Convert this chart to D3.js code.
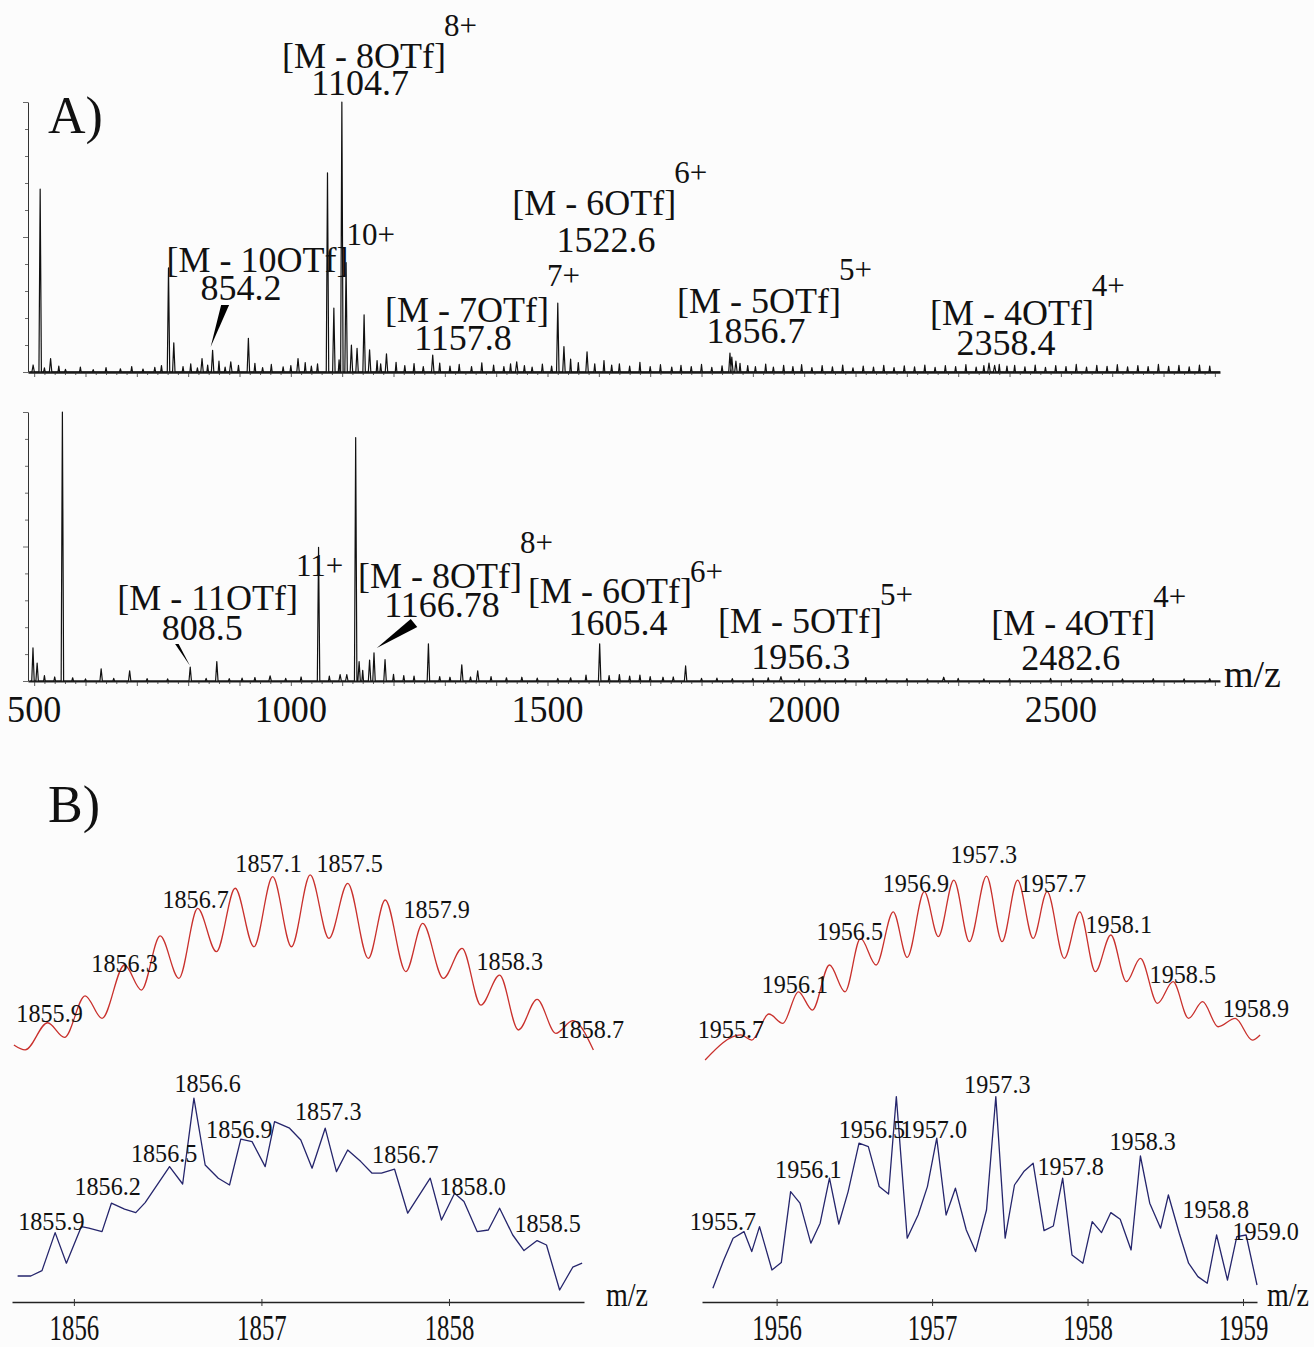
<!DOCTYPE html>
<html>
<head>
<meta charset="utf-8">
<script src="https://cdn.jsdelivr.net/npm/d3@7"></script>
<style>
  body { margin: 0; background: #fcfcfc; }
  svg { display: block; }
</style>
</head>
<body>
<svg id="chart"></svg>
<script>
// ---------- DATA ----------

// panel A, upper spectrum: [m/z, relative intensity]
const topPeaks = [[498,2.6],[511.7,67.7],[532,5],[761.7,38.6],[772,10.8],[827,5],[847.6,8],[883,3.8],
  [917.3,12.5],[1014,5],[1071.4,73.8],[1083.8,23.7],[1099.4,100],[1107.6,40.5],[1118,10],[1129,8.8],
  [1142.7,21.2],[1153.4,8.2],[1186.3,6.7],[1276.4,6.3],[1440,3.8],[1520,25.5],[1532,9.4],[1577,7.5],
  [1855.4,7],[1859,5.5],[1867,4],[2360,3.3],[2371,2.5]];
const topNoise = [[520,1.5],[548,2.2],[561,1.0],[590,1.8],[615,0.9],[640,1.6],[668,1.2],[690,2.0],[712,1.1],
  [735,1.7],[748,2.4],[790,2.0],[805,3.0],[818,1.5],[838,2.6],[860,4.0],[872,1.8],[898,2.5],[930,3.2],
  [945,1.6],[962,2.8],[985,1.9],[1000,2.4],[1028,3.5],[1040,2.2],[1052,3.0],[1094,4.5],[1168,4.2],[1175,3.0],
  [1205,3.6],[1222,2.4],[1240,3.1],[1258,2.0],[1290,3.3],[1310,2.2],[1328,2.8],[1352,2.0],[1372,3.4],
  [1395,2.6],[1415,2.0],[1428,3.0],[1455,2.4],[1470,1.8],[1490,2.9],[1508,2.2],[1545,4.8],[1560,3.5],
  [1592,3.0],[1610,4.2],[1625,2.6],[1640,3.0],[1660,2.2],[1680,3.6],[1700,2.0],[1720,2.7],[1742,1.8],
  [1760,2.5],[1780,2.0],[1800,2.8],[1820,1.7],[1840,2.3],[1875,3.2],[1890,2.4],[1905,2.0],[1925,2.9],
  [1940,1.8],[1960,2.5],[1978,2.0],[1995,2.7],[2015,1.6],[2035,2.4],[2055,1.9],[2075,2.6],[2095,1.5],
  [2115,2.2],[2135,1.8],[2155,2.5],[2175,1.6],[2195,2.3],[2215,1.9],[2235,2.6],[2255,1.7],[2275,2.4],
  [2295,2.0],[2315,2.7],[2335,1.8],[2350,2.4],[2380,2.8],[2395,2.2],[2410,2.5],[2430,1.9],[2450,2.6],
  [2470,1.7],[2490,2.4],[2510,2.0],[2530,2.8],[2550,1.8],[2570,2.5],[2590,2.1],[2610,2.7],[2630,1.9],
  [2650,2.4],[2670,2.0],[2690,2.8],[2710,2.1],[2730,2.5],[2750,1.9],[2770,2.6],[2790,2.2]];

// panel A, lower spectrum
const botPeaks = [[497.7,12.3],[505.8,6.7],[555,100],[630.5,4.5],[686,3.8],[804,5.2],[855.8,7.2],
  [959.6,1.9],[1054,49.7],[1096,2.4],[1109,2.4],[1126.3,90.5],[1133,7.2],[1153.4,7.8],[1162,10.5],
  [1183.5,8],[1268,13.8],[1333,6],[1364,3.8],[1601.6,13.8],[1769,5.6],[1954.7,1.6],[2271.8,1.4]];
const botNoise = [[520,2.0],[540,1.5],[575,1.2],[600,0.8],[655,1.0],[720,0.9],[760,0.8],[835,1.0],[880,0.9],
  [905,1.1],[930,1.3],[990,1.0],[1020,1.5],[1075,1.8],[1140,4.0],[1200,2.5],[1220,2.0],[1240,1.8],
  [1290,1.6],[1310,1.4],[1350,1.5],[1390,1.6],[1420,1.2],[1450,1.4],[1480,1.1],[1520,1.0],[1545,1.2],
  [1575,2.2],[1620,2.0],[1640,2.4],[1660,1.8],[1680,2.2],[1700,1.6],[1725,1.4],[1745,1.5],[1800,1.0],
  [1830,1.1],[1860,0.9],[1900,1.0],[1930,1.2],[1990,0.8],[2030,1.0],[2080,0.9],[2120,1.3],[2160,0.8],
  [2200,0.9],[2240,0.8],[2300,1.0],[2350,0.8],[2400,0.9],[2480,1.0],[2520,0.8],[2560,0.9],[2620,0.8],
  [2680,0.9],[2740,0.8],[2790,0.9]];

const mzTickLabels = [500, 1000, 1500, 2000, 2500];

// ion annotations, anchored in data units (m/z, intensity)
const topNotes = [
  {ion: "[M - 8OTf]",  z: "8+",  mass: "1104.7", ionMz: 1142.6, ionI: 112.6, zI: 124.4, massMz: 1134.9, massI: 102.6},
  {ion: "[M - 10OTf]", z: "10+", mass: "854.2",  ionMz: 935.2,  ionI: 37.0,  zI: 47.0,  massMz: 903.1,  massI: 26.7},
  {ion: "[M - 7OTf]",  z: "7+",  mass: "1157.8", ionMz: 1343.2, ionI: 18.5,  zI: 31.9,  massMz: 1335.4, massI: 8.1},
  {ion: "[M - 6OTf]",  z: "6+",  mass: "1522.6", ionMz: 1591.0, ionI: 58.1,  zI: 70.0,  massMz: 1613.9, massI: 44.4},
  {ion: "[M - 5OTf]",  z: "5+",  mass: "1856.7", ionMz: 1911.9, ionI: 21.9,  zI: 34.1,  massMz: 1906.1, massI: 10.7},
  {ion: "[M - 4OTf]",  z: "4+",  mass: "2358.4", ionMz: 2404.6, ionI: 17.4,  zI: 28.1,  massMz: 2392.9, massI: 6.3}
];
const botNotes = [
  {ion: "[M - 11OTf]", z: "11+", mass: "808.5",   ionMz: 837.9,  ionI: 26.4, zI: 39.0, massMz: 827.2,  massI: 15.2},
  {ion: "[M - 8OTf]",  z: "8+",  mass: "1166.78", ionMz: 1290.7, ionI: 34.6, zI: 47.6, massMz: 1294.5, massI: 23.8},
  {ion: "[M - 6OTf]",  z: "6+",  mass: "1605.4",  ionMz: 1621.7, ionI: 29.0, zI: 36.8, massMz: 1637.3, massI: 17.1},
  {ion: "[M - 5OTf]",  z: "5+",  mass: "1956.3",  ionMz: 1991.7, ionI: 17.8, zI: 28.3, massMz: 1993.2, massI: 4.5},
  {ion: "[M - 4OTf]",  z: "4+",  mass: "2482.6",  ionMz: 2524.3, ionI: 17.1, zI: 27.5, massMz: 2519.5, massI: 4.1}
];
// arrow tips (m/z, intensity)
const topArrowTips = [[843.7, 9.3]];
const botArrowTips = [[803.8, 5.6], [1167.4, 12.3]];

// panel B, left (5+ ion): simulated (red, extrema) and measured (blue)
const simLeft = [[1855.68,7.9],[1855.74,5.3],[1855.86,19.6],[1855.95,11.9],[1856.06,33.8],[1856.15,21.9],
  [1856.27,50],[1856.36,36.8],[1856.46,65.3],[1856.56,43],[1856.66,79.8],[1856.76,57],[1856.86,90.4],
  [1856.96,59.6],[1857.06,96.5],[1857.16,59.6],[1857.26,97.4],[1857.36,64],[1857.46,93],[1857.57,53.5],
  [1857.66,84.2],[1857.77,46.5],[1857.86,71.9],[1857.97,43],[1858.07,58.8],[1858.17,28.9],[1858.27,44.7],
  [1858.37,15.8],[1858.47,31.9],[1858.57,14],[1858.66,20.7],[1858.77,5.3]];
const expLeft = [[1855.70,9.5],[1855.77,9.5],[1855.83,12.2],[1855.90,31.2],[1855.96,15.9],[1856.04,34.2],
  [1856.08,33.4],[1856.15,31.7],[1856.20,45.9],[1856.27,42.9],[1856.33,41.2],[1856.38,46.2],[1856.51,64.2],
  [1856.58,55.5],[1856.64,98.4],[1856.70,65],[1856.77,58.4],[1856.83,55],[1856.89,77.9],[1856.95,76.7],
  [1857.02,64.2],[1857.07,86.7],[1857.15,83.4],[1857.21,77.5],[1857.27,63.4],[1857.34,83.4],[1857.40,61.7],
  [1857.46,72.5],[1857.53,66.7],[1857.59,60.9],[1857.64,60.9],[1857.71,62.9],[1857.78,40.9],[1857.90,58.4],
  [1857.96,37.5],[1858.03,50.9],[1858.08,46.7],[1858.15,31.7],[1858.21,32.5],[1858.27,43.4],[1858.34,30],
  [1858.40,22.2],[1858.47,27.2],[1858.52,25],[1858.59,2.5],[1858.66,13.9],[1858.71,15.9]];
const simLeftLabels = [["1855.9",1855.693,20.0],["1856.3",1856.093,46.3],["1856.7",1856.472,80.0],
  ["1857.1",1856.861,98.9],["1857.5",1857.293,98.9],["1857.9",1857.757,74.7],["1858.3",1858.147,47.4],
  ["1858.7",1858.579,11.6]];
const expLeftLabels = [["1855.9",1855.703,32.5],["1856.2",1856.003,50],["1856.5",1856.304,66.5],
  ["1856.6",1856.536,101.5],["1856.9",1856.705,78.5],["1857.3",1857.179,87.5],["1856.7",1857.590,66],
  ["1858.0",1857.949,50],["1858.5",1858.349,31.5]];
const leftTicks = [1856, 1857, 1858];

// panel B, right
const simRight = [[1955.54,0],[1955.77,13.2],[1955.84,10.5],[1955.95,24.2],[1956.04,19.3],[1956.14,35.9],
  [1956.23,26.3],[1956.34,50],[1956.44,35.9],[1956.54,64],[1956.64,50],[1956.75,78],[1956.84,54],
  [1956.95,88.6],[1957.04,64.9],[1957.14,94.7],[1957.24,62.3],[1957.35,96.8],[1957.45,62.3],[1957.55,94.7],
  [1957.65,64],[1957.74,88.6],[1957.85,53.5],[1957.95,78],[1958.05,46.5],[1958.15,65.8],[1958.25,41.2],
  [1958.34,53.5],[1958.45,29.8],[1958.55,41.2],[1958.65,21.9],[1958.74,30.7],[1958.84,17.5],[1958.95,21.9],
  [1959.06,10.5],[1959.11,13.2]];
const expRight = [[1955.59,3.4],[1955.66,17.5],[1955.72,28.4],[1955.79,31.7],[1955.84,21.7],[1955.89,34.2],
  [1955.97,12.5],[1956.03,16.2],[1956.09,51.7],[1956.15,45.9],[1956.22,25.9],[1956.28,35.9],[1956.34,58.4],
  [1956.40,35.5],[1956.46,51.7],[1956.53,75.9],[1956.59,74.2],[1956.66,54.2],[1956.72,50.5],[1956.77,99.2],
  [1956.84,28.4],[1956.91,40],[1956.97,54.2],[1957.03,78.4],[1957.09,40],[1957.15,53.4],[1957.22,32.5],
  [1957.28,21.7],[1957.35,42.5],[1957.41,99.2],[1957.47,28.4],[1957.53,55],[1957.59,61.7],[1957.65,65.9],
  [1957.72,32.2],[1957.78,34.5],[1957.84,58.4],[1957.90,20],[1957.97,15.9],[1958.03,36.7],[1958.09,31.2],
  [1958.15,41.2],[1958.21,37.9],[1958.28,22.5],[1958.34,69.5],[1958.40,45.9],[1958.47,33.4],[1958.52,50],
  [1958.59,30.9],[1958.65,15.9],[1958.71,9.2],[1958.77,5.9],[1958.83,30],[1958.90,7.5],[1958.96,29.2],
  [1959.02,30],[1959.09,5]];
const simRightLabels = [["1955.7",1955.492,11.6],["1956.1",1955.904,35.3],["1956.5",1956.257,63.2],
  ["1956.9",1956.682,88.4],["1957.3",1957.119,103.7],["1957.7",1957.563,88.4],["1958.1",1957.987,66.8],
  ["1958.5",1958.399,40.5],["1958.9",1958.869,22.6]];
const expRightLabels = [["1955.7",1955.441,32.5],["1956.1",1955.990,58.5],["1956.5",1956.399,78.5],
  ["1957.0",1956.797,78.5],["1957.3",1957.206,101],["1957.8",1957.678,60],["1958.3",1958.141,72.5],
  ["1958.8",1958.611,38.5],["1959.0",1958.932,27.5]];
const rightTicks = [1956, 1957, 1958, 1959];

// ---------- SETUP ----------
const W = 1314, H = 1347;
const serif = '"Liberation Serif","Times New Roman",serif';
const ink = "#111";
const red = "#c9302c";
const navy = "#25256c";

const svg = d3.select("#chart").attr("width", W).attr("height", H)
  .attr("font-family", serif);
svg.append("rect").attr("width", W).attr("height", H).attr("fill", "#fcfcfc");

// text with optional horizontal squeeze
function txt(x, y, s, size, sx, anchor) {
  return svg.append("text")
    .attr("transform", `translate(${x},${y}) scale(${sx},1)`)
    .attr("font-size", size)
    .attr("text-anchor", anchor || "start")
    .attr("fill", ink)
    .text(s);
}

// ---------- PANEL A ----------
const xA = d3.scaleLinear().domain([488, 2810]).range([28, 1220]);
const yTop = d3.scaleLinear().domain([0, 100]).range([372, 102]);
const yBot = d3.scaleLinear().domain([0, 100]).range([681, 412]);

// turn peak list into stick-like spectrum trace
function trace(peaks, noise) {
  const all = peaks.map(p => ({mz: p[0], i: p[1], w: 2.4}))
    .concat(noise.map(p => ({mz: p[0], i: p[1], w: 1.6})))
    .sort((a, b) => a.mz - b.mz);
  const pts = [[xA.domain()[0] + 4, 0]];
  all.forEach(p => pts.push([p.mz - p.w, 0], [p.mz, p.i], [p.mz + p.w, 0]));
  pts.push([xA.domain()[1], 0]);
  return pts;
}

function mzAxis(ys, lineW) {
  const g = svg.append("g")
    .attr("transform", `translate(0,${ys(0)})`)
    .call(d3.axisBottom(xA).tickValues(d3.range(500, 2801, 20))
      .tickSize(3).tickSizeOuter(0).tickFormat(""));
  g.select(".domain").attr("stroke", "#222").attr("stroke-width", lineW);
  g.selectAll(".tick line").attr("stroke", "#333").attr("stroke-width", 0.8)
    .attr("y2", d => d % 100 === 0 ? 5 : 3);
}

function intAxis(ys) {
  const g = svg.append("g")
    .attr("transform", `translate(${xA.range()[0]},0)`)
    .call(d3.axisLeft(ys).tickValues(d3.range(0, 101, 10))
      .tickSize(3).tickSizeOuter(0).tickFormat(""));
  g.select(".domain").attr("stroke", "#333").attr("stroke-width", 1);
  g.selectAll(".tick line").attr("stroke", "#444").attr("stroke-width", 0.8)
    .attr("x2", d => d % 50 === 0 ? -5 : -3);
}

function drawSpectrum(peaks, noise, ys, lineW) {
  mzAxis(ys, lineW);
  intAxis(ys);
  svg.append("path")
    .datum(trace(peaks, noise))
    .attr("fill", "none")
    .attr("stroke", "#111")
    .attr("stroke-width", 1.2)
    .attr("stroke-linejoin", "round")
    .attr("d", d3.line().x(d => xA(d[0])).y(d => ys(d[1])));
}

drawSpectrum(topPeaks, topNoise, yTop, 2.6);
drawSpectrum(botPeaks, botNoise, yBot, 1.8);

function drawNotes(notes, ys) {
  notes.forEach(n => {
    const ion = txt(xA(n.ionMz), ys(n.ionI), n.ion, 36, 1, "middle");
    const w = ion.node().getComputedTextLength();
    txt(xA(n.ionMz) + w / 2 - 2, ys(n.zI), n.z, 31, 1, "start");
    txt(xA(n.massMz), ys(n.massI), n.mass, 36, 1, "middle");
  });
}
drawNotes(topNotes, yTop);
drawNotes(botNotes, yBot);

// wedge pointers (shape offsets in px relative to the tip)
function wedge(tip, ys, a, b) {
  const tx = xA(tip[0]), ty = ys(tip[1]);
  svg.append("path")
    .attr("d", d3.line()([[tx, ty], [tx + a[0], ty + a[1]], [tx + b[0], ty + b[1]]]) + "Z")
    .attr("fill", "#000");
}
wedge(topArrowTips[0], yTop, [10.5, -42], [18.5, -42]);
wedge(botArrowTips[0], yBot, [-15, -22], [-11.5, -22]);
wedge(botArrowTips[1], yBot, [34, -29], [40.5, -21]);

// m/z tick labels and axis title
mzTickLabels.forEach(v => txt(xA(v), 722, v, 38, 0.95, "middle"));
txt(xA.range()[1] + 4, yBot(0) + 6, "m/z", 38, 1, "start");

txt(48, 133, "A)", 52, 1, "start");
txt(48, 822, "B)", 52, 1, "start");

// ---------- PANEL B ----------
const xBL = d3.scaleLinear().domain([1855.67, 1858.72]).range([12, 584]);
const xBR = d3.scaleLinear().domain([1955.52, 1959.09]).range([702, 1257]);
const ySim = d3.scaleLinear().domain([0, 100]).range([1060, 870]);
const yExp = d3.scaleLinear().domain([0, 100]).range([1295, 1095]);
const axisY = 1302;

function bAxis(xs, ticks) {
  const g = svg.append("g")
    .attr("transform", `translate(0,${axisY})`)
    .call(d3.axisBottom(xs).tickValues(ticks).tickSize(4).tickSizeOuter(0)
      .tickPadding(8).tickFormat(d3.format("d")));
  g.select(".domain").attr("stroke", "#222").attr("stroke-width", 1.4);
  g.selectAll(".tick line").attr("stroke", "#333").attr("y1", -3);
  g.selectAll(".tick text")
    .attr("font-size", 36).attr("font-family", serif).attr("fill", ink)
    .attr("transform", "scale(0.69,1)");
  txt(xs.range()[1] + (xs === xBL ? 22 : 10), axisY + 4, "m/z", 33, 0.85, "start");
}

function bPanel(xs, sim, exp, simLabels, expLabels, ticks) {
  bAxis(xs, ticks);
  svg.append("path").datum(sim)
    .attr("fill", "none").attr("stroke", red).attr("stroke-width", 1.3)
    .attr("d", d3.line().curve(d3.curveMonotoneX).x(d => xs(d[0])).y(d => ySim(d[1])));
  svg.append("path").datum(exp)
    .attr("fill", "none").attr("stroke", navy).attr("stroke-width", 1.3)
    .attr("stroke-linejoin", "round")
    .attr("d", d3.line().x(d => xs(d[0])).y(d => yExp(d[1])));
  simLabels.forEach(l => txt(xs(l[1]), ySim(l[2]), l[0], 26, 0.93, "start"));
  expLabels.forEach(l => txt(xs(l[1]), yExp(l[2]), l[0], 26, 0.93, "start"));
}

bPanel(xBL, simLeft, expLeft, simLeftLabels, expLeftLabels, leftTicks);
bPanel(xBR, simRight, expRight, simRightLabels, expRightLabels, rightTicks);
</script>
</body>
</html>
